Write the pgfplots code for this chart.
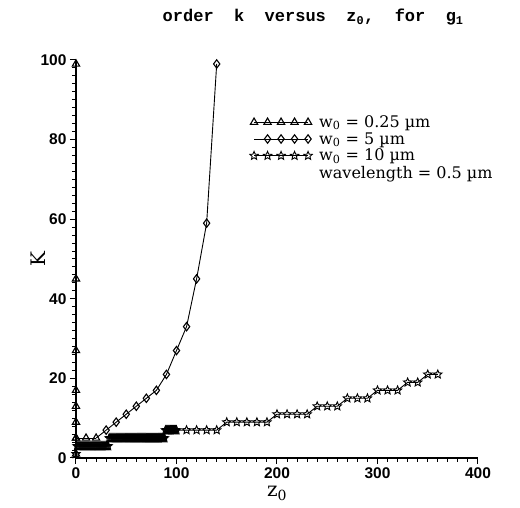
\documentclass[border=0pt]{standalone}
\usepackage{pgfplots}
\pgfplotsset{compat=1.18}
\usepackage{fontspec}
\setmainfont{DejaVu Serif}
\newfontfamily\tickfont{Liberation Sans}
\newfontfamily\titlefont{Liberation Mono}

\pgfdeclareplotmark{pstar}{%
  \pgfpathmoveto{\pgfpointpolar{90}{\pgfplotmarksize}}%
  \pgfpathlineto{\pgfpointpolar{126}{0.45\pgfplotmarksize}}%
  \pgfpathlineto{\pgfpointpolar{162}{\pgfplotmarksize}}%
  \pgfpathlineto{\pgfpointpolar{198}{0.45\pgfplotmarksize}}%
  \pgfpathlineto{\pgfpointpolar{234}{\pgfplotmarksize}}%
  \pgfpathlineto{\pgfpointpolar{270}{0.45\pgfplotmarksize}}%
  \pgfpathlineto{\pgfpointpolar{306}{\pgfplotmarksize}}%
  \pgfpathlineto{\pgfpointpolar{342}{0.45\pgfplotmarksize}}%
  \pgfpathlineto{\pgfpointpolar{18}{\pgfplotmarksize}}%
  \pgfpathlineto{\pgfpointpolar{54}{0.45\pgfplotmarksize}}%
  \pgfpathclose
  \pgfusepathqstroke
}

\begin{document}
\begin{tikzpicture}
\begin{axis}[
  scale only axis,
  width=402pt, height=398pt,
  xmin=0, xmax=400, ymin=0, ymax=100,
  axis x line*=bottom, axis y line*=left,
  axis line style={line width=1.1pt},
  clip=false,
  xtick={0,100,200,300,400},
  ytick={0,20,40,60,80,100},
  minor x tick num=9, minor y tick num=9,
  tick align=outside,
  major tick length=6pt, minor tick length=4pt,
  tick style={black, line width=1pt},
  /pgf/number format/assume math mode=true,
  ticklabel style={font=\tickfont\bfseries\fontsize{15.5}{15.5}\selectfont},
  xlabel={z\textsubscript{0}},
  ylabel={K},
  label style={font=\fontsize{20}{20}\selectfont},
  xlabel style={yshift=-1pt},
  ylabel style={yshift=-12pt},
  title={order\ \ k\ \ versus\ \ z\textsubscript{0},\ \ for\ \ g\textsubscript{1}},
  title style={font=\titlefont\bfseries\fontsize{17}{17}\selectfont, at={(0.59,1)}, anchor=south, yshift=25pt},
  legend image code/.code={\draw[mark repeat=1,mark phase=1,#1] plot coordinates {(0pt,0pt) (13.5pt,0pt) (27pt,0pt) (40.5pt,0pt) (54pt,0pt)};},
  legend style={draw=none, fill=none, at={(0.432,0.866)}, anchor=north west, inner sep=0pt,
    font=\fontsize{16}{16}\selectfont, row sep=-0.5pt,
    nodes={inner sep=2pt},
    /tikz/every odd column/.append style={column sep=5pt}},
  legend cell align=left,
  every axis plot/.append style={black, line width=0.9pt, mark options={fill=white, solid, line width=1.1pt}},
]
% w0 = 0.25 um
\addplot[mark=triangle, mark size=4.2pt] coordinates {
 (0,99) (0,45) (0,27) (0,17) (0,13) (0,9) (0,5) (0,1) (0,5) (10,5) (20,5)
};
\addlegendentry{w\textsubscript{0} = 0.25 µm}
% w0 = 5 um
\addplot[mark=diamond, mark size=4.2pt, mark indices={2,3,4,5,6,7,8,9,10,11,12,13}] coordinates {
 (20,5) (30,7) (40,9) (50,11) (60,13) (70,15) (80,17) (90,21) (100,27) (110,33) (120,45) (130,59) (140,99)
};
\addlegendentry{w\textsubscript{0} = 5 µm}
% w0 = 10 um
\addplot[mark=pstar, mark size=4.4pt, mark options={fill=none}] coordinates {
 (0,1) (1,3) (2,3) (3,3) (4,3) (5,3) (6,3) (7,3) (8,3) (9,3) (10,3)
 (11,3) (12,3) (13,3) (14,3) (15,3) (16,3) (17,3) (18,3) (19,3) (20,3)
 (21,3) (22,3) (23,3) (24,3) (25,3) (26,3) (27,3) (28,3) (29,3) (30,3)
 (31,3) (32,3) (33,5) (34,5) (35,5) (36,5) (37,5) (38,5) (39,5) (40,5)
 (41,5) (42,5) (43,5) (44,5) (45,5) (46,5) (47,5) (48,5) (49,5) (50,5)
 (51,5) (52,5) (53,5) (54,5) (55,5) (56,5) (57,5) (58,5) (59,5) (60,5)
 (61,5) (62,5) (63,5) (64,5) (65,5) (66,5) (67,5) (68,5) (69,5) (70,5)
 (71,5) (72,5) (73,5) (74,5) (75,5) (76,5) (77,5) (78,5) (79,5) (80,5)
 (81,5) (82,5) (83,5) (84,5) (85,5) (86,5) (87,5) (88,5) (89,7) (90,7)
 (91,7) (92,7) (93,7) (94,7) (95,7) (96,7) (97,7) (98,7) (99,7) (100,7)
 (110,7) (120,7) (130,7) (140,7)
 (150,9) (160,9) (170,9) (180,9) (190,9)
 (200,11) (210,11) (220,11) (230,11)
 (240,13) (250,13) (260,13)
 (270,15) (280,15) (290,15)
 (300,17) (310,17) (320,17)
 (330,19) (340,19)
 (350,21) (360,21)
};
\addlegendentry{w\textsubscript{0} = 10 µm}
\addlegendimage{empty legend}
\addlegendentry{wavelength = 0.5 µm}
\path (rel axis cs:0,0) ++(-76pt,-50pt) rectangle ++(520pt,508pt);
\end{axis}
\end{tikzpicture}
\end{document}
